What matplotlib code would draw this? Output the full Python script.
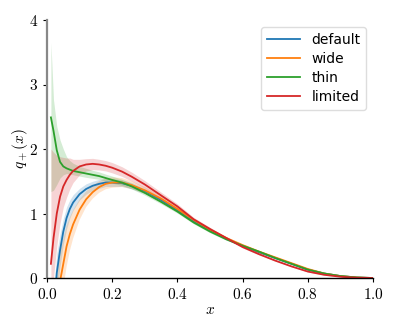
import numpy as np
import matplotlib
matplotlib.use("Agg")
import matplotlib.pyplot as plt
from matplotlib.ticker import FuncFormatter

plt.rcParams['mathtext.fontset'] = 'cm'

x = [0.012, 0.02, 0.03, 0.04, 0.05, 0.06, 0.07, 0.08, 0.10, 0.12, 0.14, 0.16, 0.18, 0.20,
     0.23, 0.26, 0.30, 0.35, 0.40, 0.45, 0.50, 0.55, 0.60, 0.65, 0.70, 0.75, 0.80, 0.85,
     0.90, 0.95, 1.00]

default = [-1.5, -0.6, 0.08, 0.43, 0.72, 0.93, 1.07, 1.17, 1.30, 1.38, 1.43, 1.46, 1.48, 1.48,
           1.47, 1.43, 1.35, 1.21, 1.05, 0.88, 0.74, 0.61, 0.50, 0.40, 0.31, 0.22, 0.13, 0.07,
           0.03, 0.008, 0.0]
wide = [-3.0, -1.5, -0.6, -0.05, 0.22, 0.49, 0.68, 0.83, 1.06, 1.22, 1.33, 1.41, 1.46, 1.48,
        1.48, 1.44, 1.36, 1.23, 1.07, 0.90, 0.75, 0.62, 0.51, 0.41, 0.32, 0.23, 0.14, 0.07,
        0.03, 0.008, 0.0]
thin = [2.49, 2.28, 1.98, 1.80, 1.73, 1.70, 1.68, 1.66, 1.64, 1.62, 1.60, 1.58, 1.55, 1.52,
        1.48, 1.42, 1.32, 1.18, 1.03, 0.86, 0.72, 0.60, 0.50, 0.41, 0.31, 0.22, 0.13, 0.07,
        0.03, 0.008, 0.0]
limited = [0.22, 0.62, 1.00, 1.26, 1.42, 1.52, 1.60, 1.66, 1.73, 1.76, 1.77, 1.76, 1.74, 1.71,
           1.65, 1.57, 1.45, 1.28, 1.11, 0.91, 0.76, 0.62, 0.48, 0.37, 0.27, 0.18, 0.10, 0.05,
           0.02, 0.004, 0.0]

# uncertainty band edges (distance below / above each curve)
default_err = [0.5, 0.4, 0.3, 0.25, 0.2, 0.17, 0.14, 0.12, 0.09, 0.08, 0.07, 0.07, 0.06, 0.06,
               0.05, 0.05, 0.04, 0.035, 0.03, 0.025, 0.02, 0.018, 0.015, 0.012, 0.01, 0.008,
               0.006, 0.004, 0.002, 0.001, 0.0]
wide_err = [0.8, 0.7, 0.55, 0.45, 0.38, 0.32, 0.26, 0.22, 0.16, 0.12, 0.10, 0.09, 0.085, 0.08,
            0.07, 0.06, 0.05, 0.04, 0.03, 0.025, 0.02, 0.018, 0.015, 0.012, 0.01, 0.008,
            0.006, 0.004, 0.002, 0.001, 0.0]
thin_err_lo = [1.15, 0.92, 0.53, 0.25, 0.13, 0.08, 0.07, 0.06, 0.06, 0.06, 0.055, 0.05, 0.05,
               0.05, 0.045, 0.04, 0.035, 0.03, 0.025, 0.02, 0.018, 0.015, 0.012, 0.01, 0.008,
               0.006, 0.005, 0.004, 0.002, 0.001, 0.0]
thin_err_hi = [1.16, 0.48, 0.37, 0.34, 0.27, 0.18, 0.14, 0.12, 0.09, 0.08, 0.07, 0.065, 0.06,
               0.06, 0.05, 0.045, 0.04, 0.03, 0.025, 0.02, 0.018, 0.015, 0.012, 0.01, 0.008,
               0.006, 0.005, 0.004, 0.002, 0.001, 0.0]
limited_err_lo = [0.8, 0.62, 0.5, 0.41, 0.32, 0.27, 0.22, 0.18, 0.13, 0.10, 0.09, 0.085, 0.08,
                  0.08, 0.075, 0.07, 0.06, 0.05, 0.04, 0.03, 0.025, 0.02, 0.015, 0.012, 0.01,
                  0.008, 0.006, 0.004, 0.002, 0.001, 0.0]
limited_err_hi = [1.78, 1.33, 0.90, 0.62, 0.45, 0.34, 0.26, 0.18, 0.11, 0.09, 0.085, 0.08,
                  0.08, 0.08, 0.075, 0.07, 0.06, 0.05, 0.04, 0.03, 0.025, 0.02, 0.015, 0.012,
                  0.01, 0.008, 0.006, 0.004, 0.002, 0.001, 0.0]

labels = ['default', 'wide', 'thin', 'limited']
colors = ['#1f77b4', '#ff7f0e', '#2ca02c', '#d62728']

series = [
    (default, default_err, default_err),
    (wide, wide_err, wide_err),
    (thin, thin_err_lo, thin_err_hi),
    (limited, limited_err_lo, limited_err_hi),
]

fig = plt.figure(figsize=(3.99, 3.32), dpi=100)
ax = fig.add_axes([47 / 399, 1 - 278 / 332, 326 / 399, 258 / 332])

xa = np.array(x)
for (y, elo, ehi), lab, c in zip(series, labels, colors):
    y = np.array(y)
    ax.fill_between(xa, y - np.array(elo), y + np.array(ehi), color=c, alpha=0.2, lw=0)
for (y, elo, ehi), lab, c in zip(series, labels, colors):
    ax.plot(xa, y, color=c, lw=1.3, label=lab)

ax.set_xlim(0, 1)
ax.set_ylim(0, 4)
ax.set_xticks([0, 0.2, 0.4, 0.6, 0.8, 1.0])
ax.set_yticks([0, 1, 2, 3, 4])
ax.xaxis.set_major_formatter(FuncFormatter(lambda v, p: f'${v:.1f}$'))
ax.yaxis.set_major_formatter(FuncFormatter(lambda v, p: f'${int(round(v))}$'))
ax.tick_params(labelsize=11, length=3, width=0.8)
ax.spines['top'].set_visible(False)
ax.spines['right'].set_visible(False)
ax.spines['left'].set_color('#888888')
ax.spines['left'].set_linewidth(1.6)
ax.spines['bottom'].set_linewidth(1.0)

ax.set_xlabel('$x$', fontsize=11, labelpad=0)
ax.set_ylabel('$q_+(x)$', fontsize=11)
ax.yaxis.set_label_coords(-0.052, 0.5)

leg = ax.legend(loc='upper right', bbox_to_anchor=(1.0, 1.0), fontsize=10,
                handlelength=2.4, labelspacing=0.38, framealpha=1.0)
leg.get_frame().set_edgecolor('#dddddd')

fig.savefig('out.png', dpi=100)
